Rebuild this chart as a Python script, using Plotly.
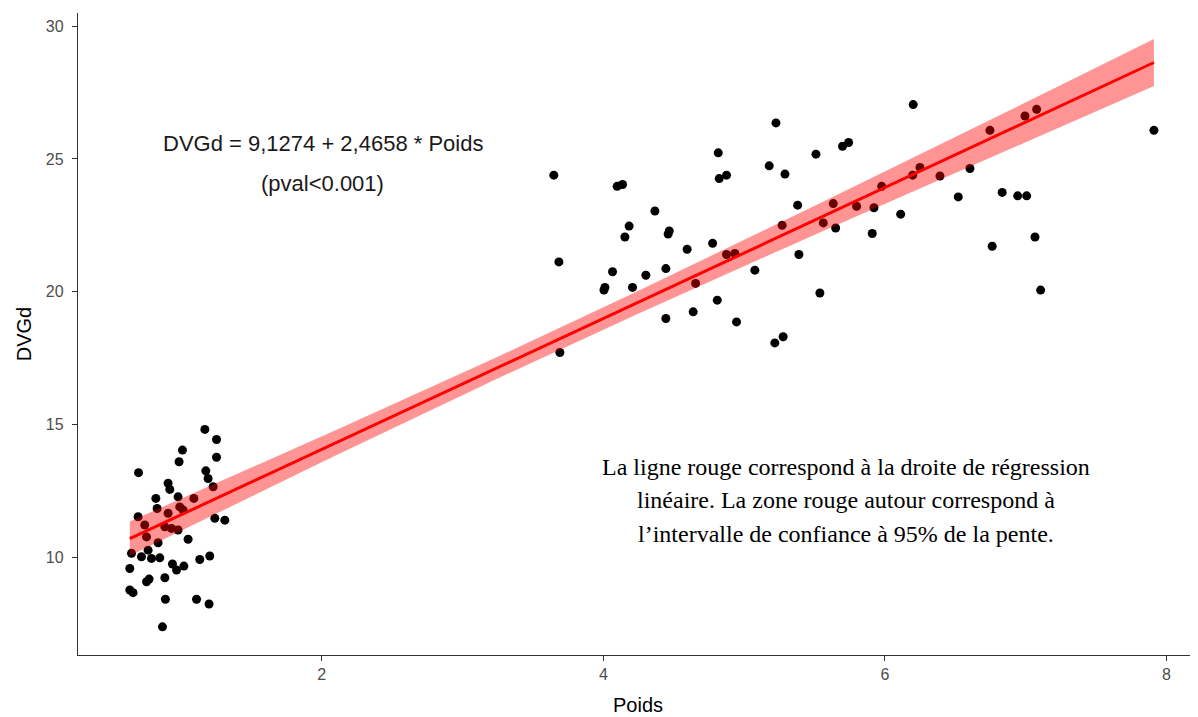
import numpy as np
import plotly.graph_objects as go

# Data
poids_low = [1.169, 1.252, 1.010, 0.986, 1.252, 0.698, 1.176, 1.192, 1.228, 0.908,
             0.920, 0.821, 0.979, 1.091, 0.830, 0.991, 0.908, 1.015, 0.695, 1.240,
             1.311, 0.742, 0.885, 0.932, 0.979, 0.755, 0.837, 1.050, 0.648, 0.719,
             0.766, 0.790, 0.849, 1.133, 1.204, 0.636, 0.939, 0.968, 1.020, 0.885,
             0.755, 0.773, 0.636, 0.659, 0.889, 1.110, 1.199, 0.868]
dvgd_low = [14.81, 14.43, 14.03, 13.59, 13.76, 13.18, 13.25, 12.96, 12.65, 12.78,
            12.55, 12.21, 12.27, 12.21, 11.83, 11.89, 11.65, 11.77, 11.52, 11.46,
            11.39, 11.21, 11.14, 11.08, 11.02, 10.76, 10.54, 10.67, 10.14, 10.01,
            10.26, 9.95, 9.97, 9.91, 10.04, 9.57, 9.74, 9.51, 9.66, 9.22,
            9.07, 9.17, 8.76, 8.66, 8.41, 8.41, 8.23, 7.37]

poids_high = [4.816, 3.648, 4.098, 4.136, 4.823, 4.875, 4.366, 4.183, 4.153, 4.468,
              4.460, 4.595, 4.776, 4.875, 4.934, 3.684, 4.065, 4.302, 4.444, 5.076,
              4.011, 4.004, 4.207, 4.655, 4.809, 4.638, 4.444, 4.946, 3.691,
              6.201, 5.226, 5.699, 5.742, 5.510, 5.178, 5.290, 6.249, 6.197, 6.391,
              6.604, 5.977, 6.521, 5.380, 5.633, 5.799, 5.922, 6.112, 5.270, 5.562,
              5.650, 5.910, 5.389, 5.538, 5.218, 5.277,
              6.746, 6.995, 7.078, 7.911, 6.833, 6.943, 7.007, 7.066, 6.762, 7.106]
dvgd_high = [25.23, 24.39, 23.97, 24.04, 24.26, 24.39, 23.04, 22.47, 22.06, 22.29,
             22.17, 21.60, 21.82, 21.40, 21.44, 21.12, 20.75, 20.62, 20.87, 20.81,
             20.16, 20.06, 20.16, 20.31, 19.68, 19.24, 18.99, 18.86, 17.71,
             27.05, 26.36, 25.48, 25.62, 25.18, 24.74, 24.43, 24.68, 24.39, 24.36,
             24.64, 23.97, 23.57, 23.26, 23.32, 23.22, 23.16, 22.92, 22.50, 22.59,
             22.40, 22.19, 21.40, 19.95, 18.07, 18.30,
             26.08, 26.62, 26.87, 26.08, 23.74, 23.61, 23.61, 22.06, 21.71, 20.06]

intercept = 9.1274
slope = 2.4658
t_crit = 1.98

x_ticks = [2, 4, 6, 8]
y_ticks = [10, 15, 20, 25, 30]

x = np.array(poids_low + poids_high)
y = np.array(dvgd_low + dvgd_high)
n = len(x)
resid = y - (intercept + slope * x)
s = np.sqrt(np.sum(resid ** 2) / (n - 2))
xbar = x.mean()
sxx = np.sum((x - xbar) ** 2)

xs = np.linspace(x.min(), x.max(), 80)
fit = intercept + slope * xs
se = s * np.sqrt(1.0 / n + (xs - xbar) ** 2 / sxx)
upper = fit + t_crit * se
lower = fit - t_crit * se

fig = go.Figure()
fig.add_trace(go.Scatter(x=x, y=y, mode="markers",
                         marker=dict(color="black", size=9, line=dict(width=0)),
                         showlegend=False, hoverinfo="skip"))
fig.add_trace(go.Scatter(x=np.concatenate([xs, xs[::-1]]),
                         y=np.concatenate([upper, lower[::-1]]),
                         fill="toself", fillcolor="rgba(255,0,0,0.42)",
                         line=dict(width=0), mode="lines",
                         showlegend=False, hoverinfo="skip"))
fig.add_trace(go.Scatter(x=xs, y=fit, mode="lines",
                         line=dict(color="#FF0000", width=3),
                         showlegend=False, hoverinfo="skip"))

sans = "Liberation Sans, Arial, sans-serif"
serif = "Liberation Serif, Times New Roman, serif"

fig.add_annotation(x=2.007, y=25.59, xref="x", yref="y",
                   text="DVGd = 9,1274 + 2,4658 * Poids", showarrow=False,
                   font=dict(family=sans, size=22, color="#1a1a1a"))
fig.add_annotation(x=2.007, y=24.09, xref="x", yref="y",
                   text="(pval<0.001)", showarrow=False,
                   font=dict(family=sans, size=22, color="#1a1a1a"))

para = ["La ligne rouge correspond à la droite de régression",
        "linéaire. La zone rouge autour correspond à",
        "l’intervalle de confiance à 95% de la pente."]
para_y = [13.4, 12.14, 10.86]
for line_text, yy in zip(para, para_y):
    fig.add_annotation(x=5.72, y=yy, xref="x", yref="y", text=line_text,
                       showarrow=False,
                       font=dict(family=serif, size=24, color="black"))

fig.update_layout(
    width=1190, height=709,
    margin=dict(l=70, r=0, t=5, b=62, autoexpand=False),
    plot_bgcolor="white", paper_bgcolor="white",
    showlegend=False,
    xaxis=dict(range=[0.268, 8.224], tickvals=x_ticks, ticktext=[str(v) for v in x_ticks],
               showgrid=False, zeroline=False, showline=True, linecolor="#333333",
               linewidth=1.3, ticks="outside", ticklen=5, tickcolor="#333333",
               automargin=False,
               tickfont=dict(family=sans, size=16, color="#4D4D4D"),
               title=dict(text="Poids", font=dict(family=sans, size=20, color="black"),
                          standoff=15)),
    yaxis=dict(range=[6.31, 30.5], tickvals=y_ticks, ticktext=[str(v) for v in y_ticks],
               showgrid=False, zeroline=False, showline=True, linecolor="#333333",
               linewidth=1.3, ticks="outside", ticklen=5, tickcolor="#333333",
               automargin=False, ticklabelstandoff=5,
               tickfont=dict(family=sans, size=16, color="#4D4D4D"),
               title=dict(text="DVGd", font=dict(family=sans, size=20, color="black"),
                          standoff=8)),
)

fig.write_html("out.html")
